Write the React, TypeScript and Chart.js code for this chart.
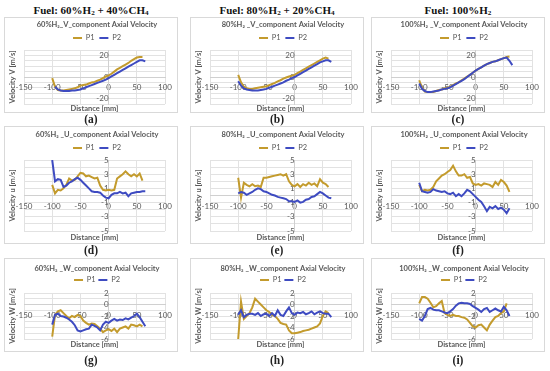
import React, { useEffect, useRef } from 'react';
import { Chart, registerables } from 'chart.js';

Chart.register(...registerables);

// ---------- data ----------
const distances = [-100, -95, -90, -85, -80, -75, -70, -65, -60, -55, -50, -45, -40, -35, -30, -25, -20, -15, -10, -5, 0, 5, 10, 15, 20, 25, 30, 35, 40, 45, 50, 55, 60, 65];

const seriesNames = ['P1', 'P2'];

const v60P1 = [-1, -9, -12, -12.5, -12.5, -12, -11.5, -11, -10.5, -9.5, -8, -7.5, -7, -6, -5, -4.5, -3.5, -2.5, -1, 0.5, 1.5, 3, 5, 7, 8.5, 10, 11.5, 13, 15, 16.5, 18, 18.5, 18.5, null];
const v60P2 = [null, -9, -11.5, -12.5, -13, -13, -13, -12.5, -12.5, -12, -11.5, -10.5, -9.5, -8.5, -7.5, -6.5, -5.5, -4.5, -3.5, -2.5, -1, 0.5, 2, 3.5, 5, 6.5, 8, 9.5, 11, 12.5, 14, 15.5, 15.5, 14.5];
const v80P1 = [2, -5, -9, -10.5, -11, -11, -10.5, -10, -9.5, -9, -8.5, -7.5, -6.5, -5.5, -4, -3, -1.5, -0.5, 0.5, 1.2, 2, 3.5, 5, 6.5, 8, 9.5, 11, 12.5, 14, 15.5, 17, 18, 17, null];
const v80P2 = [-4, -8, -10.5, -11.5, -12, -12.5, -12.5, -12.5, -12, -11.5, -11, -10, -9, -8, -7, -6, -5, -3.5, -2.5, -1, 0, 1.5, 3, 4.5, 6, 7.5, 9, 10.5, 12, 13.5, 14.5, 15.5, 15.5, 14];
const v100P1 = [-3, -10, -13.5, -14, -14, -14, -13, -12, -11.5, -10.5, -10, -9, -7.5, -6, -5, -3, -1.5, 0.5, 2, 4, 6, 7.5, 9, 10.5, 12, 13, 14, 14.5, 15.5, 16.5, 17.5, 18.5, 19, null];
const v100P2 = [-6, -11, -13, -14, -14, -13.5, -13, -12.5, -11.5, -11, -10.5, -9.5, -8, -6.5, -5, -3.5, -2, 0, 2, 4, 6, 7.5, 9, 10.5, 12, 13, 14, 14.5, 15.5, 16.5, 17.5, 18, 15, 11];

const u60P1 = [1.5, 0.3, 0.8, 0.7, 1.0, 1.5, 2.4, 2.1, 2.2, 2.7, 3.2, 3.1, 2.7, 2.8, 2.6, 2.4, 2.5, 1.4, 0.8, 0.7, 0.8, 0.7, 0.8, 2.4, 2.7, 3.0, 3.4, 3.0, 2.7, 3.0, 2.7, 3.1, 2.1, null];
const u60P2 = [5.0, 2.0, 2.3, 2.2, 1.2, 1.4, 1.8, 2.0, 2.3, 2.5, 2.2, 1.8, 1.4, 1.0, 0.6, 0.5, 0.5, 0.4, 0.0, -0.3, -0.4, 0.1, 0.3, 0.3, 0.5, 0.3, 0.4, -0.1, 0.3, 0.4, 0.5, 0.5, 0.6, 0.6];
const u80P1 = [2.5, -0.3, 1.8, 1.5, 1.3, 1.6, 1.3, 1.4, 1.2, 2.5, 2.5, 2.6, 2.7, 2.8, 2.9, 3.0, 2.8, 3.0, 2.0, 1.5, 1.3, 1.6, 1.2, 1.6, 1.4, 1.8, 1.5, 1.7, 1.3, 2.3, 1.8, 1.6, 1.2, null];
const u80P2 = [0.3, 0.5, 0.4, 0.1, 0.3, 0.5, 0.8, 1.0, 0.9, 0.6, 0.5, 0.3, 0.1, 0.0, -0.2, -0.3, -0.4, -0.5, -0.8, -0.8, -0.9, -0.7, -1.0, -0.9, -0.6, -0.5, -0.2, -0.1, 0.2, 0.5, 0.3, 0.0, -0.3, -0.4];
const u100P1 = [1.5, 0.6, 0.8, 0.7, 0.8, 1.2, 2.0, 2.4, 2.8, 3.0, 3.3, 3.6, 4.2, 3.4, 2.8, 2.8, 3.0, 2.5, 2.6, 1.7, 1.5, 1.6, 1.4, 1.7, 1.6, 1.5, 1.2, 1.9, 1.5, 2.2, 1.9, 1.4, 0.5, null];
const u100P2 = [1.8, 0.6, 0.5, 0.4, 0.5, 0.9, 0.7, 0.6, 0.5, 0.6, 0.3, 0.2, 0.4, -0.1, 0.2, -0.1, 0.3, 0.8, 0.6, 0.2, -0.2, -0.6, -0.9, -1.5, -2.2, -1.6, -1.8, -1.5, -1.9, -1.7, -2.0, -2.5, -1.8, null];

const w60P1 = [-5.6, -1.8, -1.2, -1.0, -1.5, -2.0, -2.4, -2.0, -2.2, -1.8, -2.0, -2.8, -3.2, -3.5, -3.3, -3.4, -3.8, -4.2, -4.8, -4.5, -4.3, -4.6, -4.2, -4.8, -4.2, -4.0, -3.8, -4.2, -3.5, -3.6, -3.8, -3.5, -3.8, null];
const w60P2 = [-3.5, -1.8, -1.6, -2.0, -2.1, -2.3, -2.6, -3.0, -3.6, -4.5, -4.7, -4.5, -4.3, -4.2, -3.5, -3.7, -4.0, -4.5, -3.5, -3.0, -3.2, -2.8, -2.5, -2.8, -2.6, -2.7, -2.4, -2.6, -2.3, -2.0, -1.6, -2.2, -3.0, -3.8];
const w80P1 = [-6.0, 0.5, -2.5, -2.0, -1.5, -0.5, 1.0, 0.5, 0.0, -0.5, -1.0, -1.3, -1.8, -2.0, -2.5, -3.2, -3.4, -3.5, -4.5, -5.0, -5.0, -4.9, -4.8, -4.6, -4.5, -4.4, -4.2, -4.0, -3.8, -3.3, -2.0, -1.2, -1.5, null];
const w80P2 = [-1.8, -1.0, -2.2, -1.8, -1.6, -1.6, -1.8, -1.5, -2.0, -1.7, -1.6, -2.0, -1.5, -2.0, -1.0, -1.8, -2.0, -1.2, -0.5, -1.5, -1.8, -1.4, -1.5, -1.3, -1.7, -1.5, -1.2, -1.7, -1.4, -1.2, -1.5, -1.6, -1.6, -2.2];
const w100P1 = [0.2, 1.3, 1.3, 1.0, 0.3, -0.5, -0.3, 0.2, 0.6, -1.5, -1.8, -2.0, -1.8, -2.0, -2.0, -2.2, -2.3, -2.6, -3.2, -3.8, -4.0, -3.6, -3.5, -4.0, -4.5, -3.5, -2.8, -2.2, -2.0, -1.5, -1.2, 0.2, null, null];
const w100P2 = [-2.5, -2.8, -2.0, -0.8, -0.6, -0.9, -1.0, -1.0, -1.2, -1.4, -1.5, -1.2, -0.8, -0.2, 0.2, 0.3, 0.2, 0.2, 0.1, -0.3, -0.6, -0.9, -1.3, -0.8, -0.6, -1.3, -1.0, -0.7, -1.0, -1.2, -0.4, -1.0, -2.0, null];

const chartTitles = [
  '60%H₂_V_component Axial Velocity', '80%H₂ _V_component Axial Velocity', '100%H₂ _V_component Axial Velocity',
  '60%H₂ _U_component Axial Velocity', '80%H₂ _U_component Axial Velocity', '100%H₂ _U_component Axial Velocity',
  '60%H₂ _W_component Axial Velocity', '80%H₂ _W_component Axial Velocity', '100%H₂ _W_component Axial Velocity',
];
const panelLetters = ['(a)', '(b)', '(c)', '(d)', '(e)', '(f)', '(g)', '(h)', '(i)'];
const xAxisTitle = 'Distance [mm]';
const yAxisTitles = ['Velocity V [m/s]', 'Velocity u [m/s]', 'Velocity W [m/s]'];

// y-axis settings per row (V, U, W)
const yMin = [-25, -5, -6];
const yMax = [25, 5, 2];
const yStep = [5, 1, 1];
const xMin = -150;
const xMax = 100;
const xStep = 50;

const seriesByPanel = [
  [v60P1, v60P2], [v80P1, v80P2], [v100P1, v100P2],
  [u60P1, u60P2], [u80P1, u80P2], [u100P1, u100P2],
  [w60P1, w60P2], [w80P1, w80P2], [w100P1, w100P2],
];

// ---------- style / layout ----------
const P1_COLOR = '#C39B2D';
const P2_COLOR = '#3E4BC1';
const GRID = '#e2e2e2';
const AXIS = '#d0d0d0';
const TEXT = '#595959';
const FONT = 'Lato';

const COL_LEFT = [4, 190, 371];
const BOX_W = 174;
const ROWS = [
  { top: 17, height: 96, titleY: 8, legendY: 21, plotTop: 33, bottomPad: 9, labelY: 119, xTitleOff: 5 },
  { top: 126, height: 118, titleY: 9, legendY: 22, plotTop: 34, bottomPad: 13, labelY: 250, xTitleOff: 6.5 },
  { top: 258, height: 94, titleY: 11, legendY: 22, plotTop: 35, bottomPad: 13, labelY: 360, xTitleOff: 6 },
];

const yLabelShown = [
  (v: number) => Math.abs(v) % 20 === 0,
  (v: number) => Math.abs(v) % 2 === 1,
  (v: number) => Math.abs(v) % 2 === 0,
];

const axisTitlesPlugin = {
  id: 'axisTitles',
  afterDraw(chart: any, _args: any, opts: any) {
    const { ctx, chartArea } = chart;
    ctx.save();
    ctx.fillStyle = TEXT;
    ctx.font = `bold 7.5px ${FONT}`;
    ctx.textAlign = 'center';
    ctx.textBaseline = 'middle';
    ctx.fillText(opts.xText, (chartArea.left + chartArea.right) / 2, chartArea.bottom + opts.xOff);
    ctx.translate(opts.yX, (chartArea.top + chartArea.bottom) / 2);
    ctx.rotate(-Math.PI / 2);
    ctx.fillText(opts.yText, 0, 0);
    ctx.restore();
  },
};

function Panel({ index }: { index: number }) {
  const ref = useRef<HTMLCanvasElement | null>(null);
  const r = Math.floor(index / 3);
  const c = index % 3;
  const row = ROWS[r];

  useEffect(() => {
    if (!ref.current) return;
    const series = seriesByPanel[index];
    const colors = [P1_COLOR, P2_COLOR];
    const titleH = row.titleY + 4.5;
    const legendPad = row.legendY - row.titleY - 8.25;
    const legendH = row.plotTop - titleH;
    const font = { family: FONT, size: 7.5 };
    const tickFont = { family: FONT, size: 8 };
    const chart = new Chart(ref.current, {
      type: 'line',
      data: {
        datasets: series.map((vals, k) => ({
          label: seriesNames[k],
          data: vals
            .map((y, i) => ({ x: distances[i], y }))
            .filter((p) => p.y !== null),
          borderColor: colors[k],
          backgroundColor: colors[k],
          borderWidth: 2,
          pointRadius: 0,
          tension: 0,
          order: k === 0 ? 1 : 0,
        })),
      },
      options: {
        animation: false,
        responsive: false,
        maintainAspectRatio: false,
        layout: { padding: { left: 20, right: 8, top: 0, bottom: row.bottomPad } },
        scales: {
          x: {
            type: 'linear',
            min: xMin,
            max: xMax,
            position: { y: 0 },
            ticks: { stepSize: xStep, font: tickFont, color: TEXT, padding: 6, maxRotation: 0, autoSkip: false },
            grid: { color: GRID, drawTicks: false },
            border: { color: AXIS },
          },
          y: {
            type: 'linear',
            min: yMin[r],
            max: yMax[r],
            position: { x: 0 },
            ticks: {
              stepSize: yStep[r],
              font: tickFont,
              color: TEXT,
              padding: 4,
              autoSkip: false,
              callback: (v: any) => (yLabelShown[r](Math.round(Number(v))) ? String(v) : ''),
            },
            grid: { color: GRID, drawTicks: false },
            border: { color: AXIS },
          },
        },
        plugins: {
          title: {
            display: true,
            text: chartTitles[index],
            color: TEXT,
            font: { family: FONT, size: 7.5 },
            padding: { top: row.titleY - 4.5, bottom: 0 },
          },
          legend: {
            display: true,
            position: 'top',
            maxHeight: legendH,
            labels: {
              boxWidth: 9,
              boxHeight: 2,
              padding: legendPad,
              font,
              color: TEXT,
              sort: (a: any, b: any) => a.datasetIndex - b.datasetIndex,
              generateLabels: (ch: any) =>
                Chart.defaults.plugins.legend.labels
                  .generateLabels(ch)
                  .map((l: any) => ({ ...l, lineWidth: 0, fillStyle: l.strokeStyle })),
            },
          },
          tooltip: { enabled: false },
          axisTitles: { xText: xAxisTitle, yText: yAxisTitles[r], xOff: row.xTitleOff, yX: 9 },
        } as any,
      },
      plugins: [axisTitlesPlugin],
    } as any);
    return () => chart.destroy();
  }, [index]);

  const left = COL_LEFT[c];
  return (
    <>
      <canvas
        ref={ref}
        width={BOX_W}
        height={row.height}
        style={{ position: 'absolute', left, top: row.top, width: BOX_W, height: row.height }}
      />
      <div
        style={{
          position: 'absolute', left, top: row.top, width: BOX_W, height: row.height,
          border: '1px solid #d9d9d9', boxSizing: 'border-box', pointerEvents: 'none',
        }}
      />
      <div
        style={{
          position: 'absolute', left: left + BOX_W / 2, top: row.labelY, transform: 'translate(-50%, -50%)',
          font: 'bold 11.5px "Liberation Serif", serif', color: '#222', whiteSpace: 'nowrap',
        }}
      >
        {panelLetters[index]}
      </div>
    </>
  );
}

const subStyle: React.CSSProperties = { fontSize: '0.65em', verticalAlign: '-0.2em', lineHeight: 0 };

function Header({ col, children }: { col: number; children: React.ReactNode }) {
  return (
    <div
      style={{
        position: 'absolute', left: COL_LEFT[col] + BOX_W / 2, top: 10, transform: 'translate(-50%, -50%)',
        font: 'bold 11px "Liberation Serif", serif', color: '#111', whiteSpace: 'nowrap', lineHeight: '13px',
      }}
    >
      {children}
    </div>
  );
}

export default function App() {
  return (
    <div style={{ position: 'absolute', left: 0, top: 0, width: 550, height: 371, background: '#fff', overflow: 'hidden' }}>
      <Header col={0}>Fuel: 60%H<span style={subStyle}>2</span> + 40%CH<span style={subStyle}>4</span></Header>
      <Header col={1}>Fuel: 80%H<span style={subStyle}>2</span> + 20%CH<span style={subStyle}>4</span></Header>
      <Header col={2}>Fuel: 100%H<span style={subStyle}>2</span></Header>
      {chartTitles.map((_, i) => (
        <Panel key={i} index={i} />
      ))}
    </div>
  );
}
